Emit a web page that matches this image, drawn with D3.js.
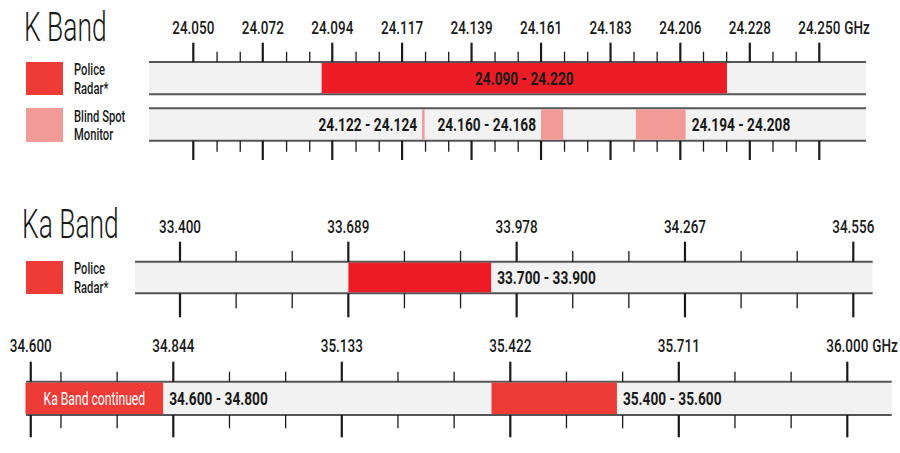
<!DOCTYPE html>
<html><head><meta charset="utf-8">
<script src="https://cdn.jsdelivr.net/npm/d3@7"></script>
<style>body{margin:0;background:#fff} svg{display:block}</style>
</head><body><svg id="c" width="900" height="453"></svg>
<script>
// ---------------- data ----------------
const kTickLabels = ["24.050","24.072","24.094","24.117","24.139","24.161","24.183","24.206","24.228","24.250"];
const kTickValues = [24.050, 24.0722, 24.0944, 24.1167, 24.1389, 24.1611, 24.1833, 24.2056, 24.2278, 24.250];
const kPolice = [{start: 24.091, end: 24.2205, label: "24.090 - 24.220"}];
const kBlind = [
  {start: 24.1231, end: 24.1239, label: "24.122 - 24.124"},
  {start: 24.1611, end: 24.1682, label: "24.160 - 24.168"},
  {start: 24.1914, end: 24.2073, label: "24.194 - 24.208"}
];
const kaTickLabels1 = ["33.400","33.689","33.978","34.267","34.556"];
const kaTickValues1 = [33.400, 33.6889, 33.9778, 34.2667, 34.5556];
const kaPolice1 = [{start: 33.689, end: 33.934, label: "33.700 - 33.900"}];
const kaTickLabels2 = ["34.600","34.844","35.133","35.422","35.711","36.000"];
const kaTickValues2 = [34.600, 34.8444, 35.1333, 35.4222, 35.7111, 36.000];
const kaPolice2 = [
  {start: 34.591, end: 34.827, label: "34.600 - 34.800", inner: "Ka Band continued"},
  {start: 35.390, end: 35.605, label: "35.400 - 35.600"}
];
const unit = "GHz";
const titles = ["K Band", "Ka Band"];
const legendPolice = ["Police", "Radar*"];
const legendBlind = ["Blind Spot", "Monitor"];

// ---------------- style ----------------
const RED = "#ed1c24", RED2 = "#ef3b36", PINK = "#f29a96", BG = "#f2f2f2", LINE = "#555", TICK = "#1a1a1a";
const FONT = "Roboto, 'Liberation Sans', sans-serif";
const svg = d3.select("#c");

function txt(g, str, x, yc, o) {
  const size = o.size || 18.5, sx = o.sx || 0.74;
  const t = g.append("text")
    .attr("transform", `translate(${x},${yc + 0.36 * size}) scale(${sx},1)`)
    .attr("text-anchor", o.anchor || "start")
    .attr("font-family", FONT).attr("font-size", size)
    .attr("font-weight", o.weight || 400)
    .attr("fill", o.fill || "#1a1a1a")
    .text(str);
  t.w = t.node().getComputedTextLength() * sx;
  return t;
}

function minorValues(vals, lo, hi) {
  const diffs = d3.pairs(vals).map(([a, b]) => b - a);
  const step = d3.median(diffs.slice(1).length ? diffs.slice(1) : diffs) / 3;
  const ref = vals[vals.length - 1];
  const out = [];
  for (let n = 0; ref - n * step >= lo - 1e-6; n++) {
    const v = ref - n * step;
    if (v > hi + 1e-6) continue;
    if (vals.some(m => Math.abs(m - v) < step * 0.3)) continue;
    out.push(v);
  }
  return out;
}

function drawTicks(g, x, majors, minors, yBase, majorLen, minorLen, dir) {
  g.selectAll(null).data(majors).join("line")
    .attr("x1", d => x(d)).attr("x2", d => x(d))
    .attr("y1", yBase).attr("y2", yBase + dir * majorLen)
    .attr("stroke", TICK).attr("stroke-width", 2.2);
  g.selectAll(null).data(minors).join("line")
    .attr("x1", d => x(d)).attr("x2", d => x(d))
    .attr("y1", yBase).attr("y2", yBase + dir * minorLen)
    .attr("stroke", TICK).attr("stroke-width", 1.3);
}

function drawBarBg(g, x0, x1, y0, y1) {
  g.append("rect").attr("x", x0).attr("y", y0).attr("width", x1 - x0).attr("height", y1 - y0).attr("fill", BG);
  [y0, y1].forEach(y => g.append("line").attr("x1", x0).attr("x2", x1).attr("y1", y).attr("y2", y)
    .attr("stroke", LINE).attr("stroke-width", 2));
}

function drawSegments(g, x, data, y0, y1, color, mode) {
  g.selectAll(null).data(data).join("rect")
    .attr("x", d => x(d.start)).attr("y", y0 + 1)
    .attr("width", d => Math.max(2.5, x(d.end) - x(d.start))).attr("height", y1 - y0 - 2)
    .attr("fill", color);
  const yc = (y0 + y1) / 2;
  data.forEach((d, i) => {
    const m = typeof mode === "function" ? mode(i) : mode;
    if (m === "center") txt(g, d.label, (x(d.start) + x(d.end)) / 2, yc, {weight: 700, anchor: "middle"});
    else if (m === "left") txt(g, d.label, x(d.start) - 5, yc, {weight: 700, anchor: "end"});
    else txt(g, d.label, x(d.end) + 6, yc, {weight: 700});
    if (d.inner) txt(g, d.inner, (x(d.start) + x(d.end)) / 2, yc, {anchor: "middle", fill: "#fff", sx: 0.64, size: 19});
  });
}

function drawLabels(g, x, vals, labels, yc, withUnit) {
  vals.forEach((v, i) => {
    const t = txt(g, labels[i], x(v), yc, {anchor: "middle", weight: 500, size: 19, sx: 0.71});
    if (withUnit && i === vals.length - 1) txt(g, unit, x(v) + t.w / 2 + 4, yc, {weight: 500, size: 19, sx: 0.71});
  });
}

function legend(g, y0, y1, color, lines) {
  g.append("rect").attr("x", 26).attr("y", y0).attr("width", 37).attr("height", y1 - y0).attr("fill", color);
  const yc = (y0 + y1) / 2;
  txt(g, lines[0], 74, yc - 9.3, {size: 16.5, sx: 0.68, weight: 500});
  txt(g, lines[1], 74, yc + 9.3, {size: 16.5, sx: 0.68, weight: 500});
}

// ---------------- K band ----------------
const gk = svg.append("g");
txt(gk, titles[0], 24, 27, {size: 40, weight: 300, sx: 0.66});
const xk = d3.scaleLinear().domain([24.05, 24.25]).range([193.3, 819.3]);
const kMinor = minorValues(kTickValues, 24.05, 24.25);
drawLabels(gk, xk, kTickValues, kTickLabels, 26.7, true);
drawBarBg(gk, 149, 866, 62, 94.3);
drawBarBg(gk, 149, 866, 108.3, 140.7);
drawTicks(gk, xk, kTickValues, kMinor, 62, 19.3, 10.3, -1);
drawTicks(gk, xk, kTickValues, kMinor, 140.7, 19.3, 11, 1);
drawSegments(gk, xk, kPolice, 62, 94.3, RED, "center");
drawSegments(gk, xk, kBlind, 108.3, 140.7, PINK, i => i < 2 ? "left" : "right");
legend(gk, 62, 95, RED2, legendPolice);
legend(gk, 108, 142, PINK, legendBlind);

// ---------------- Ka band row 1 ----------------
const ga = svg.append("g");
txt(ga, titles[1], 22, 224, {size: 40, weight: 300, sx: 0.66});
const xa1 = d3.scaleLinear().domain([33.4, 34.5556]).range([180, 853.3]);
const a1Minor = minorValues(kaTickValues1, 33.4, 34.5556);
drawLabels(ga, xa1, kaTickValues1, kaTickLabels1, 226, false);
drawBarBg(ga, 135, 872.7, 261.7, 293.3);
drawTicks(ga, xa1, kaTickValues1, a1Minor, 261.7, 20, 10.7, -1);
drawTicks(ga, xa1, kaTickValues1, a1Minor, 293.3, 24, 15, 1);
drawSegments(ga, xa1, kaPolice1, 261.7, 293.3, RED, "right");
legend(ga, 261, 294, RED2, legendPolice);

// ---------------- Ka band row 2 ----------------
const xa2 = d3.scaleLinear().domain([34.8444, 36.0]).range([173.3, 847.3]);
const a2Minor = minorValues(kaTickValues2, 34.6, 36.0);
drawLabels(ga, xa2, kaTickValues2, kaTickLabels2, 345, true);
drawBarBg(ga, 26, 891.7, 381.7, 415);
drawTicks(ga, xa2, kaTickValues2, a2Minor, 381.7, 20, 10, -1);
drawTicks(ga, xa2, kaTickValues2, a2Minor, 415, 22.3, 13.3, 1);
drawSegments(ga, xa2, kaPolice2, 381.7, 415, RED2, "right");
</script></body></html>
